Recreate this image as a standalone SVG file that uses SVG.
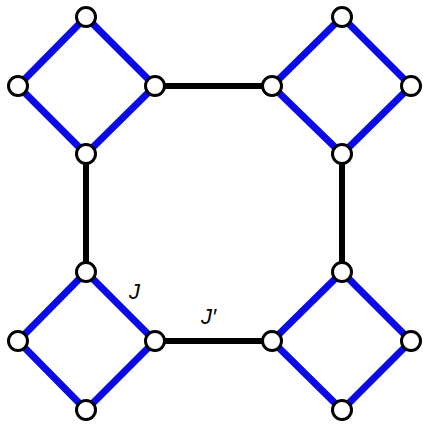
<svg xmlns="http://www.w3.org/2000/svg" width="423" height="426" viewBox="0 0 423 426">
<style>
.b{stroke:#0a0ae6;stroke-width:7;fill:none}
.k{stroke:#000;stroke-width:6;fill:none}
.n{fill:#fff;stroke:#000;stroke-width:3}
.t{font-family:"Liberation Sans",Arial,sans-serif;font-style:italic;font-size:22px;fill:#000}
</style>
<rect width="423" height="426" fill="#fff"/>
<g id="connectors">
<path class="b" d="M86,17 L18,86 L86,154 L155,86 Z"/>
<path class="b" d="M342,17 L272,86 L342,154 L411,86 Z"/>
<path class="b" d="M86,272 L18,341 L86,410 L155,341 Z"/>
<path class="b" d="M342,272 L272,341 L342,410 L411,341 Z"/>
<line class="k" x1="155" y1="86" x2="272" y2="86"/>
<line class="k" x1="86" y1="154" x2="86" y2="272"/>
<line class="k" x1="342" y1="154" x2="342" y2="272"/>
<line class="k" x1="155" y1="341" x2="272" y2="341"/>
</g>
<g id="n1"><circle class="n" cx="86" cy="17" r="9.5"/></g>
<g id="n2"><circle class="n" cx="18" cy="86" r="9.5"/></g>
<g id="n3"><circle class="n" cx="155" cy="86" r="9.5"/></g>
<g id="n4"><circle class="n" cx="86" cy="154" r="9.5"/></g>
<g id="n5"><circle class="n" cx="342" cy="17" r="9.5"/></g>
<g id="n6"><circle class="n" cx="272" cy="86" r="9.5"/></g>
<g id="n7"><circle class="n" cx="411" cy="86" r="9.5"/></g>
<g id="n8"><circle class="n" cx="342" cy="154" r="9.5"/></g>
<g id="n9"><circle class="n" cx="86" cy="272" r="9.5"/></g>
<g id="n10"><circle class="n" cx="18" cy="341" r="9.5"/></g>
<g id="n11"><circle class="n" cx="155" cy="341" r="9.5"/></g>
<g id="n12"><circle class="n" cx="86" cy="410" r="9.5"/></g>
<g id="n13"><circle class="n" cx="342" cy="272" r="9.5"/></g>
<g id="n14"><circle class="n" cx="272" cy="341" r="9.5"/></g>
<g id="n15"><circle class="n" cx="411" cy="341" r="9.5"/></g>
<g id="n16"><circle class="n" cx="342" cy="410" r="9.5"/></g>
<g id="labels">
<text class="t" x="129" y="299">J</text>
<text class="t" x="201" y="324">J′</text>
</g>
</svg>
